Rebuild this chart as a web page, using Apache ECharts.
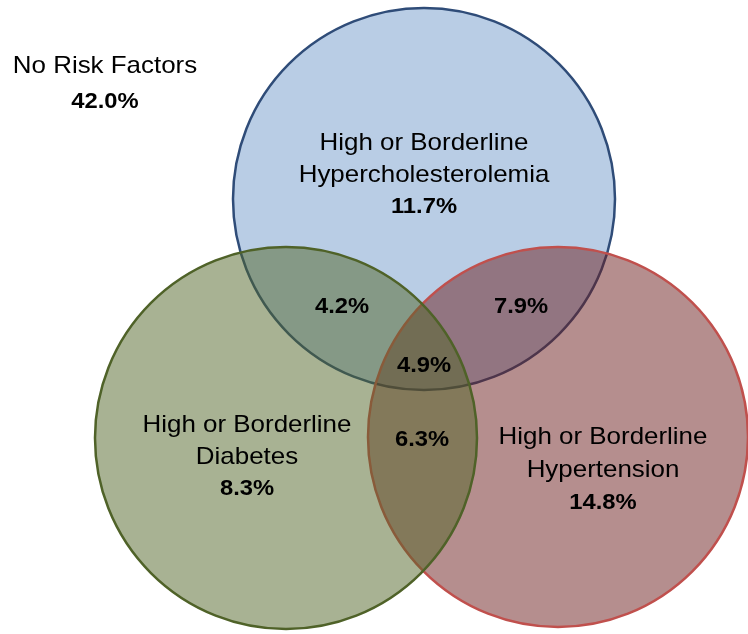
<!DOCTYPE html>
<html>
<head>
<meta charset="utf-8">
<script src="https://cdn.jsdelivr.net/npm/echarts@6/dist/echarts.min.js"></script>
<style>
  html, body { margin: 0; padding: 0; background: #ffffff; }
  #main { width: 748px; height: 634px; }
</style>
</head>
<body>
<div id="main"></div>
<script>
  // set names and shares (percent of population)
  const setNames = ['High or Borderline\nHypercholesterolemia', 'High or Borderline\nDiabetes', 'High or Borderline\nHypertension'];
  const setOnly = [11.7, 8.3, 14.8];
  const pairNames = ['Chol + Diabetes', 'Chol + Hypertension', 'Diabetes + Hypertension'];
  const pairValues = [4.2, 7.9, 6.3];
  const allThree = 4.9;
  const noRiskName = 'No Risk Factors';
  const noRisk = 42.0;

  // layout of the circles (chart units) and their colours
  const circleCenters = [[424, 199], [286, 438], [558, 437]];
  const circleRadius = [191, 191, 190];
  const fills = ['#b9cde5', 'rgba(81,101,39,0.5)', 'rgba(107,29,30,0.5)'];
  const strokes = ['#2f4c78', '#4f6228', '#c0504d'];
  const drawOrder = [0, 2, 1]; // blue, then red, green on top

  // label anchors (chart units)
  const setLabelPos = [[424, 175], [247, 457], [603, 470]];
  const pairLabelPos = [[342, 307], [521, 307], [422, 440]];
  const tripleLabelPos = [424, 366];
  const noRiskPos = [105, 84];

  const fmt = v => v.toFixed(1) + '%';

  const circleData = drawOrder.map(i => [circleCenters[i][0], circleCenters[i][1], circleRadius[i], i]);

  // [x, y, rich text, line height]
  const labelData = [];
  setNames.forEach((n, i) => {
    labelData.push([setLabelPos[i][0], setLabelPos[i][1], '{n|' + n.split('\n').join('}\n{n|') + '}\n{v|' + fmt(setOnly[i]) + '}', i == 2 ? 33 : 32]);
  });
  pairValues.forEach((v, i) => {
    labelData.push([pairLabelPos[i][0], pairLabelPos[i][1], '{v|' + fmt(v) + '}', 32]);
  });
  labelData.push([tripleLabelPos[0], tripleLabelPos[1], '{v|' + fmt(allThree) + '}', 32]);
  labelData.push([noRiskPos[0], noRiskPos[1], '{n|' + noRiskName + '}\n{v|' + fmt(noRisk) + '}', 36]);

  const chart = echarts.init(document.getElementById('main'), null, { renderer: 'canvas' });

  chart.setOption({
    animation: false,
    grid: { left: 0, right: 0, top: 0, bottom: 0 },
    xAxis: { type: 'value', min: 0, max: 748, show: false },
    yAxis: { type: 'value', min: 0, max: 634, inverse: true, show: false },
    series: [
      {
        type: 'custom',
        name: 'circles',
        data: circleData,
        renderItem: function (params, api) {
          const p = api.coord([api.value(0), api.value(1)]);
          const r = api.size([api.value(2), 0])[0];
          const i = api.value(3);
          return {
            type: 'circle',
            shape: { cx: p[0], cy: p[1], r: r },
            style: { fill: fills[i], stroke: strokes[i], lineWidth: 2.5 }
          };
        }
      },
      {
        type: 'custom',
        name: 'labels',
        data: labelData,
        renderItem: function (params, api) {
          const p = api.coord([api.value(0), api.value(1)]);
          const lh = labelData[params.dataIndex][3];
          return {
            type: 'text',
            x: p[0],
            y: p[1],
            scaleX: 1.08,
            style: {
              text: labelData[params.dataIndex][2],
              align: 'center',
              verticalAlign: 'middle',
              rich: {
                n: { fontFamily: 'Liberation Sans', fontSize: 24, color: '#111', lineHeight: lh, align: 'center' },
                v: { fontFamily: 'Liberation Sans', fontSize: 22, fontWeight: 'bold', color: '#111', lineHeight: lh, align: 'center' }
              }
            }
          };
        }
      }
    ]
  });
</script>
</body>
</html>
